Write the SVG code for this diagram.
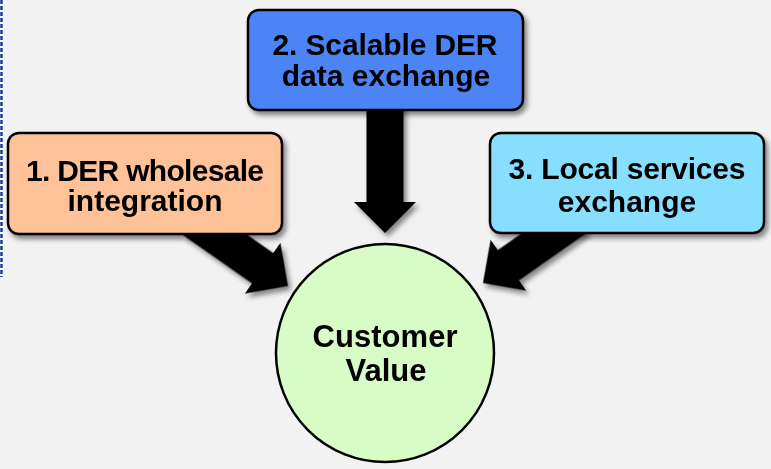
<svg xmlns="http://www.w3.org/2000/svg" width="771" height="469" viewBox="0 0 771 469">
<defs>
<style>
.lbl{font-family:"Liberation Sans",Arial,sans-serif;font-weight:bold;font-size:30px;fill:#000;text-anchor:middle}
.box{stroke:#000;stroke-width:2.5}
.arrow{fill:#000}
</style>
<filter id="sh" x="-10%" y="-10%" width="130%" height="140%">
<feDropShadow dx="3" dy="4" stdDeviation="2.5" flood-color="#000" flood-opacity="0.45"/>
</filter>
<path id="arr" d="M0,0 L-31,31 L-31,18.5 L-115,18.5 L-115,-18.5 L-31,-18.5 L-31,-31 Z"/>
<path id="arrv" d="M0,0 L-31,31 L-31,18.5 L-128,18.5 L-128,-18.5 L-31,-18.5 L-31,-31 Z"/>
</defs>
<rect width="771" height="469" fill="#f2f2f2"/>
<line x1="1.5" y1="0" x2="1.5" y2="277" stroke="#ffffff" stroke-width="2.5"/>
<line x1="1.5" y1="0" x2="1.5" y2="277" stroke="#173a9c" stroke-width="2.5" stroke-dasharray="4,2"/>
<g id="connectors" filter="url(#sh)">
<use href="#arrv" class="arrow" transform="translate(385,233) rotate(90)"/>
<use href="#arr" class="arrow" transform="translate(288,286) rotate(35)"/>
<use href="#arr" class="arrow" transform="translate(483,283) rotate(145)"/>
</g>
<g id="node1">
<rect x="8" y="133" width="274" height="101" rx="11" fill="#ffc197" class="box" filter="url(#sh)"/>
<text class="lbl" x="145" y="181" textLength="238">1. DER wholesale</text>
<text class="lbl" x="145" y="211">integration</text>
</g>
<g id="node2">
<rect x="248" y="10" width="275" height="100" rx="11" fill="#4d84f5" class="box" filter="url(#sh)"/>
<text class="lbl" x="385" y="55" textLength="225">2. Scalable DER</text>
<text class="lbl" x="386" y="86">data exchange</text>
</g>
<g id="node3">
<rect x="490" y="133" width="274" height="100" rx="11" fill="#87deff" class="box" filter="url(#sh)"/>
<text class="lbl" x="627" y="179" textLength="237">3. Local services</text>
<text class="lbl" x="627" y="212">exchange</text>
</g>
<g id="node4">
<circle cx="385" cy="353" r="109" fill="#d8fcc6" stroke="#000" stroke-width="2.5"/>
<text class="lbl" x="385" y="347" style="font-size:31px" textLength="145">Customer</text>
<text class="lbl" x="386" y="381" style="font-size:31px">Value</text>
</g>
</svg>
